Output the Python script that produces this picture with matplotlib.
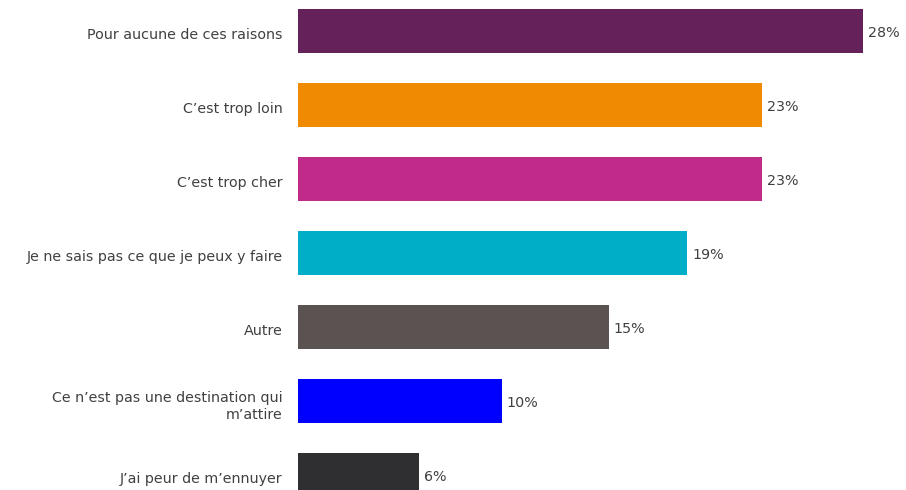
import matplotlib.pyplot as plt

# data
categories = [
    "Pour aucune de ces raisons",
    "C\u2019est trop loin",
    "C\u2019est trop cher",
    "Je ne sais pas ce que je peux y faire",
    "Autre",
    "Ce n\u2019est pas une destination qui\nm\u2019attire",
    "J\u2019ai peur de m\u2019ennuyer",
]
values = [28, 23, 23, 19.3, 15.4, 10.1, 6]
colors = ["#65215A", "#F08A00", "#C02B8A", "#00AEC7", "#5B5352", "#0000FF", "#2F2E31"]

fig = plt.figure(figsize=(9.06, 4.90), dpi=100)
ax = fig.add_axes([298 / 906, 0, 608 / 906, 1])

pos = list(range(len(categories)))
ax.barh(pos, values, height=0.595, color=colors)

# value labels next to each bar
for p, v in zip(pos, values):
    ax.text(v + 0.25, p + 0.03, f"{v:.0f}%", va="center", ha="left",
            fontsize=10.3, color="#404040")

ax.set_yticks([p + 0.04 for p in pos])
ax.set_yticklabels(categories, fontsize=10.3, color="#404040", ha="right")
ax.tick_params(axis="y", length=0, pad=11)
ax.set_xticks([])
ax.set_xlim(0, 30.13)
ax.set_ylim(6.203, -0.419)
for s in ax.spines.values():
    s.set_visible(False)

fig.savefig("out.png", dpi=100)
